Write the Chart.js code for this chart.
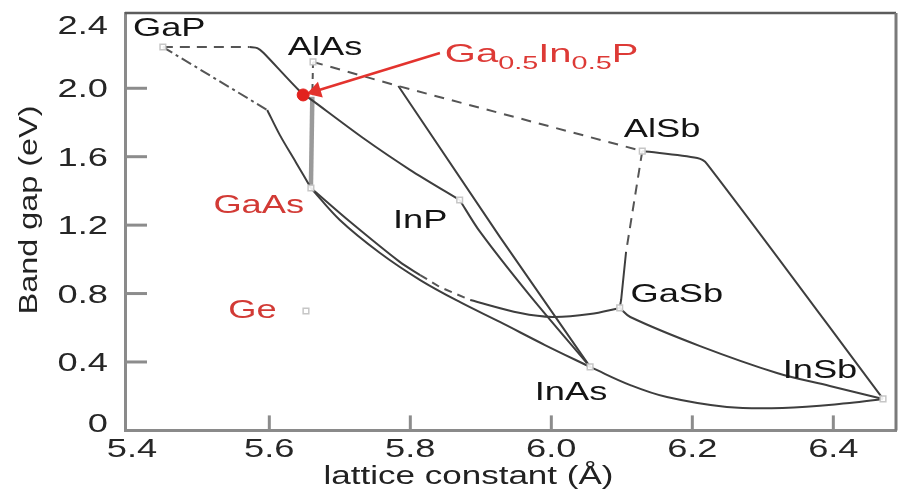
<!DOCTYPE html>
<html><head><meta charset="utf-8">
<script src="https://cdn.jsdelivr.net/npm/chart.js@4.4.1/dist/chart.umd.min.js"></script>
<style>html,body{margin:0;padding:0;background:#fff;}#wrap{width:899px;height:490px;}</style>
</head><body><div id="wrap"><canvas id="c" width="899" height="490"></canvas></div>
<script>
// ---- axis ticks ----
const xTickValues = [5.4, 5.6, 5.8, 6.0, 6.2, 6.4];
const xTickLabels = ['5.4', '5.6', '5.8', '6.0', '6.2', '6.4'];
const yTickValues = [0, 0.4, 0.8, 1.2, 1.6, 2.0, 2.4];
const yTickLabels = ['0', '0.4', '0.8', '1.2', '1.6', '2.0', '2.4'];

// ---- binary compounds: lattice constant (Å), band gap (eV) ----
const compoundNames = ['GaP', 'AlAs', 'GaAs', 'InP', 'AlSb', 'GaSb', 'InAs', 'InSb', 'Ge'];
const compoundA  = [5.449, 5.662, 5.659, 5.870, 6.129, 6.097, 6.055, 6.4705, 5.652];
const compoundEg = [2.241, 2.154, 1.417, 1.347, 1.633, 0.716, 0.371, 0.184, 0.698];

// ---- Ga0.5In0.5P ----
const alloyA  = [5.648];
const alloyEg = [1.961];
const arrowPath = [[5.842, 2.206], [5.666, 1.984]];

// ---- ternary alloy curves [a, Eg] ----
const gapInpIndirect  = [[5.449, 2.241], [5.572, 2.241]];
const gapInpDirect    = [[5.572, 2.241], [5.583, 2.235], [5.592, 2.206], [5.643, 1.984], [5.662, 1.926], [5.733, 1.709], [5.800, 1.522], [5.870, 1.347]];
const gapGaasIndirect = [[5.449, 2.241], [5.597, 1.873]];
const gapGaasDirect   = [[5.597, 1.873], [5.615, 1.726], [5.638, 1.565], [5.659, 1.417]];
const alasGaasIndirect= [[5.662, 2.154], [5.661, 1.960]];
const alasGaasDirect  = [[5.661, 1.950], [5.659, 1.417]];
const alasAlsb        = [[5.662, 2.154], [5.783, 2.013], [6.129, 1.633]];
const alasInas        = [[5.783, 2.013], [5.927, 1.131], [6.055, 0.371]];
const inpInas         = [[5.870, 1.347], [5.899, 1.160], [5.970, 0.786], [6.055, 0.371]];
const gaasInas        = [[5.659, 1.417], [5.700, 1.230], [5.757, 1.037], [5.814, 0.879], [5.870, 0.751], [5.927, 0.634], [5.991, 0.499], [6.055, 0.371]];
const gaasGasbA       = [[5.659, 1.417], [5.715, 1.218], [5.785, 0.985], [5.814, 0.908]];
const gaasGasbB       = [[5.814, 0.908], [5.842, 0.838], [5.885, 0.762]];
const gaasGasbC       = [[5.885, 0.762], [5.956, 0.686], [6.002, 0.663], [6.055, 0.680], [6.097, 0.716]];
const alsbGasbIndirect= [[6.129, 1.633], [6.106, 1.043]];
const alsbGasbDirect  = [[6.106, 1.043], [6.099, 0.762], [6.097, 0.716]];
const alsbInsb        = [[6.129, 1.633], [6.207, 1.592], [6.221, 1.557], [6.4705, 0.184]];
const gasbInsb        = [[6.097, 0.716], [6.112, 0.663], [6.211, 0.493], [6.320, 0.336], [6.395, 0.260], [6.4705, 0.184]];
const inasInsb        = [[6.055, 0.371], [6.112, 0.265], [6.164, 0.195], [6.249, 0.137], [6.328, 0.131], [6.423, 0.160], [6.4705, 0.184]];

// ---- label anchors (data coords, text baseline) ----
const labelTexts = ['GaP', 'AlAs', 'AlSb', 'InP', 'GaSb', 'InAs', 'InSb', 'GaAs', 'Ge'];
const labelA     = [5.458, 5.679, 6.157, 5.814, 6.178, 6.028, 6.381, 5.585, 5.576];
const labelEg    = [2.306, 2.195, 1.715, 1.183, 0.751, 0.178, 0.306, 1.271, 0.657];
const labelRed   = [false, false, false, false, false, false, false, true, true];
const alloyLabelParts = [['Ga', false], ['0.5', true], ['In', false], ['0.5', true], ['P', false]];
const alloyLabelAnchor = [5.849, 2.154];

const toXY = p => p.map(([a, e]) => ({x: a, y: e}));
const LINE = '#3e3e3e';
function curve(pairs, opt) {
  return Object.assign({data: toXY(pairs), showLine: true, borderColor: LINE, borderWidth: 2,
    pointRadius: 0, fill: false, tension: 0}, opt || {});
}

const datasets = [
  {data: alloyA.map((a, i) => ({x: a, y: alloyEg[i]})), pointStyle: 'circle', pointRadius: 6,
   backgroundColor: '#e2221e', borderColor: '#e2221e', showLine: false},
  {data: toXY(arrowPath), showLine: true, borderColor: '#e3332e', borderWidth: 2.5,
   pointRadius: [0, 7], pointStyle: 'triangle', rotation: 253,
   pointBackgroundColor: '#e3332e', pointBorderColor: '#e3332e'},
  {data: compoundA.map((a, i) => ({x: a, y: compoundEg[i]})), pointStyle: 'rect', pointRadius: 4,
   backgroundColor: 'rgba(255,255,255,0.9)', borderColor: '#c6c6c6', borderWidth: 1.5, showLine: false},
  curve(gapInpIndirect, {borderDash: [10, 7], borderColor: '#555'}),
  curve(gapInpDirect, {tension: 0.25}),
  curve(gapGaasIndirect, {borderDash: [11, 4, 3, 4], borderColor: '#555'}),
  curve(gapGaasDirect, {tension: 0.3}),
  curve(alasGaasIndirect, {borderDash: [6, 5], borderColor: '#555'}),
  curve(alasGaasDirect, {borderColor: '#9a9a9a', borderWidth: 4.5}),
  curve(alasAlsb, {borderDash: [10, 8], borderColor: '#555'}),
  curve(alasInas),
  curve(inpInas, {tension: 0.3}),
  curve(gaasInas, {tension: 0.35}),
  curve(gaasGasbA, {tension: 0.3}),
  curve(gaasGasbB, {borderDash: [8, 6], borderColor: '#555'}),
  curve(gaasGasbC, {tension: 0.35}),
  curve(alsbGasbIndirect, {borderDash: [10, 7], borderColor: '#555'}),
  curve(alsbGasbDirect),
  curve(alsbInsb, {tension: 0.3}),
  curve(gasbInsb, {tension: 0.35}),
  curve(inasInsb, {tension: 0.4})
];

const FONT = '"Liberation Sans", Arial, Helvetica, sans-serif';
function txt(ctx, s, x, y, size, color, align, sx, sy) {
  ctx.save();
  ctx.translate(x, y);
  ctx.scale(sx, sy || 1);
  ctx.font = size + 'px ' + FONT;
  ctx.fillStyle = color;
  ctx.textAlign = align;
  ctx.textBaseline = 'alphabetic';
  ctx.fillText(s, 0, 0);
  ctx.restore();
}

const decor = {
  id: 'decor',
  afterDraw(chart) {
    const {ctx, chartArea: ca, scales} = chart;
    const xs = scales.x, ys = scales.y;
    ctx.save();
    // top and right frame
    ctx.strokeStyle = '#5c5c5c'; ctx.lineWidth = 2.5;
    ctx.beginPath(); ctx.moveTo(ca.left, ca.top); ctx.lineTo(ca.right, ca.top); ctx.stroke();
    ctx.strokeStyle = '#7a7a7a'; ctx.lineWidth = 3;
    ctx.beginPath(); ctx.moveTo(ca.right, ca.top); ctx.lineTo(ca.right, ca.bottom); ctx.stroke();
    // inner tick marks
    ctx.strokeStyle = '#8c8c8c'; ctx.lineWidth = 3;
    ys.ticks.forEach(t => {
      if (t.value <= ys.min || t.value >= 2.4) return;
      const p = ys.getPixelForValue(t.value);
      ctx.beginPath(); ctx.moveTo(ca.left, p); ctx.lineTo(ca.left + 22, p); ctx.stroke();
    });
    xs.ticks.forEach(t => {
      if (t.value <= 5.4) return;
      const p = xs.getPixelForValue(t.value);
      ctx.beginPath(); ctx.moveTo(p, ca.bottom); ctx.lineTo(p, ca.bottom - 15); ctx.stroke();
    });
    ctx.restore();
    // tick labels
    ys.ticks.forEach((t, i) => {
      const p = ys.getPixelForValue(t.value);
      const b = Math.min(Math.max(p + 9, 34), 432);
      txt(ctx, yTickLabels[i], 108, b, 25, '#262626', 'right', 1.45);
    });
    xs.ticks.forEach((t, i) => {
      const p = Math.max(xs.getPixelForValue(t.value), 132);
      txt(ctx, xTickLabels[i], p, 457, 25, '#262626', 'center', 1.45);
    });
    // axis titles
    txt(ctx, 'lattice constant (Å)', (ca.left + ca.right) / 2 - 42, 484, 25, '#222', 'center', 1.4);
    ctx.save();
    ctx.translate(37, 210);
    ctx.rotate(-Math.PI / 2);
    txt(ctx, 'Band gap (eV)', 0, 0, 24, '#222', 'center', 1.35, 1.1);
    ctx.restore();
    // compound labels
    labelTexts.forEach((s, i) => {
      txt(ctx, s, xs.getPixelForValue(labelA[i]), ys.getPixelForValue(labelEg[i]), 25,
          labelRed[i] ? '#d23a35' : '#141414', 'center', 1.45);
    });
    // Ga0.5In0.5P label with subscripts
    let px = xs.getPixelForValue(alloyLabelAnchor[0]);
    const base = ys.getPixelForValue(alloyLabelAnchor[1]);
    const sx = 1.6;
    alloyLabelParts.forEach(([s, sub]) => {
      const size = sub ? 18 : 25;
      ctx.save();
      ctx.font = size + 'px ' + FONT;
      const w = ctx.measureText(s).width * sx;
      ctx.restore();
      txt(ctx, s, px, base + (sub ? 7 : 0), size, '#dd3a36', 'left', sx);
      px += w;
    });
  }
};

new Chart(document.getElementById('c').getContext('2d'), {
  type: 'scatter',
  data: {datasets},
  options: {
    responsive: false, animation: false, devicePixelRatio: 1,
    layout: {autoPadding: false, padding: {left: 125, right: 3, top: 13, bottom: 59.6}},
    plugins: {legend: {display: false}, tooltip: {enabled: false}},
    scales: {
      x: {type: 'linear', min: 5.3953, max: 6.4889,
          ticks: {display: false}, grid: {display: false, drawTicks: false},
          border: {display: true, color: '#8a8a8a', width: 3},
          afterBuildTicks: s => { s.ticks = xTickValues.map(v => ({value: v})); }},
      y: {type: 'linear', min: 0, max: 2.44,
          ticks: {display: false}, grid: {display: false, drawTicks: false},
          border: {display: true, color: '#8a8a8a', width: 3},
          afterBuildTicks: s => { s.ticks = yTickValues.map(v => ({value: v})); }}
    }
  },
  plugins: [decor]
});
</script></body></html>
